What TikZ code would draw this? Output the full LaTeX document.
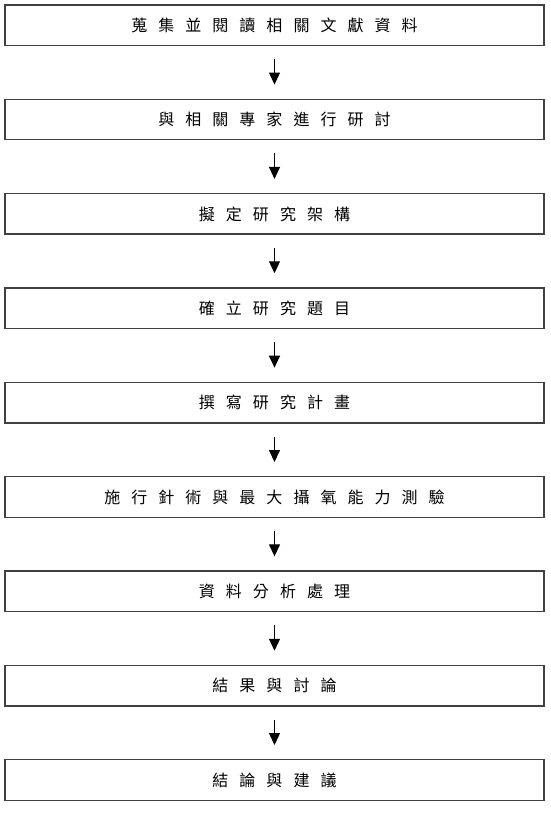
\documentclass[tikz,border=0pt]{standalone}
\usepackage{fontspec}
\newfontfamily\cjk[LetterSpace=69]{Noto Sans CJK TC}
\usetikzlibrary{arrows.meta}
\tikzset{
  stepbox/.style={draw=black!75, line width=1.4pt, minimum width=539pt, minimum height=40.5pt, inner sep=0pt, font=\cjk\fontsize{16pt}{19pt}\selectfont, text=black},
  flow/.style={draw=black, line width=1.2pt, -{Triangle[length=12pt,width=11pt]}}
}
\newcommand{\lbl}[1]{#1\hspace{-11pt}}
\begin{document}
\begin{tikzpicture}[x=1pt,y=-1pt]
\useasboundingbox (0,0) rectangle (550,836);
\node[stepbox] (b1) at (274.5,25.2) {\lbl{蒐集並閱讀相關文獻資料}};
\node[stepbox] (b2) at (274.5,119.5) {\lbl{與相關專家進行研討}};
\node[stepbox] (b3) at (274.5,213.9) {\lbl{擬定研究架構}};
\node[stepbox] (b4) at (274.5,308.2) {\lbl{確立研究題目}};
\node[stepbox] (b5) at (274.5,402.6) {\lbl{撰寫研究計畫}};
\node[stepbox] (b6) at (274.5,497.0) {\lbl{施行針術與最大攝氧能力測驗}};
\node[stepbox] (b7) at (274.5,591.3) {\lbl{資料分析處理}};
\node[stepbox] (b8) at (274.5,685.7) {\lbl{結果與討論}};
\node[stepbox] (b9) at (274.5,780.0) {\lbl{結論與建議}};
\foreach \a/\b in {b1/b2,b2/b3,b3/b4,b4/b5,b5/b6,b6/b7,b7/b8,b8/b9}{
  \draw[flow] ([yshift=-13pt]\a.south) -- ([yshift=14pt]\b.north);
}
\end{tikzpicture}
\end{document}
